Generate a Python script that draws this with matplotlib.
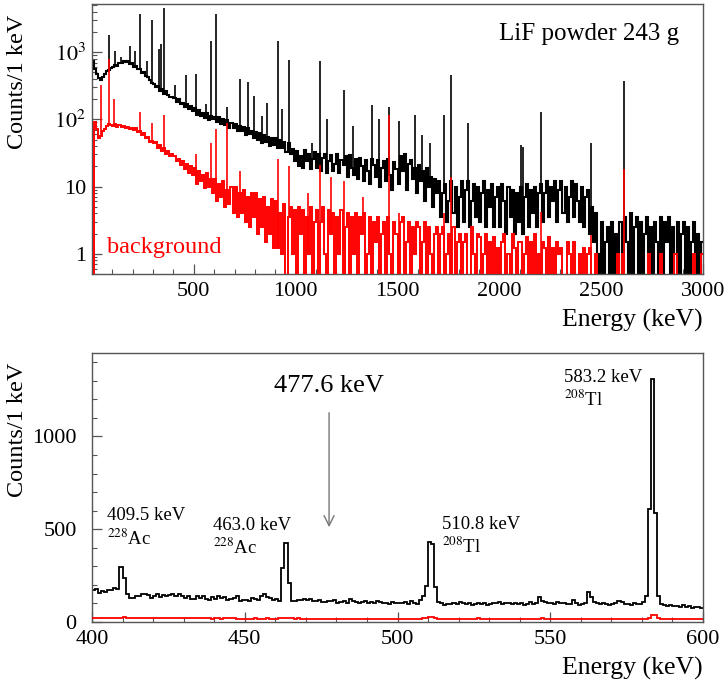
import numpy as np
import matplotlib
matplotlib.use("Agg")
import matplotlib.pyplot as plt
from matplotlib.ticker import FixedLocator, MultipleLocator, NullFormatter

plt.rcParams['font.family'] = ['Liberation Serif', 'DejaVu Serif']
plt.rcParams['mathtext.fontset'] = 'stix'

# ---------------- top panel data (10 keV bins, 0-3000 keV) ----------------
top_edges = np.arange(0, 3001, 10)
lif_cont = [
    750, 560, 470, 410, 390, 420, 480, 520, 540, 580,
    600, 640, 620, 700, 690, 750, 720, 730, 660, 680,
    610, 630, 560, 560, 490, 500, 440, 420, 380, 350,
    330, 300, 310, 265, 285, 240, 262, 230, 215, 212,
    210, 182, 198, 168, 176, 155, 170, 142, 158, 134,
    145, 118, 138, 112, 124, 106, 125, 98, 114, 100,
    110, 92, 108, 84, 100, 82, 98, 74, 88, 75,
    86, 66, 80, 68, 76, 58, 74, 60, 68, 52,
    64, 50, 62, 44, 58, 46, 55, 40, 52, 41,
    52, 37, 50, 38, 46, 33, 44, 30, 36, 24,
    34, 20, 28, 19, 35, 24, 31, 18, 26, 33,
    19, 30, 17, 27, 31, 16, 24, 29, 17, 22,
    30, 16, 25, 21, 28, 14, 29, 19, 15, 26,
    13, 27, 20, 12, 25, 17, 11, 26, 21, 14,
    25, 10, 19, 24, 12, 26, 15, 9, 23, 18,
    11, 28, 17, 30, 9, 22, 25, 13, 19, 8,
    21, 12, 17, 6, 19, 10, 14, 5, 13, 8,
    12, 3.5, 8, 11, 3, 6, 12, 4, 10, 2.5,
    7, 12, 3, 9, 12, 2.5, 6, 11, 3.5, 10,
    3, 8, 12, 2.5, 9, 5, 11, 2.5, 7, 10,
    2.5, 11, 6, 2, 10, 3.5, 9, 2, 8, 3,
    10, 2, 7, 11, 2.5, 9, 4, 10, 2.5, 8,
    11, 3, 8, 12, 3.5, 10, 6, 12, 3, 9,
    12, 4, 10, 3, 7, 12, 3.5, 11, 6, 3,
    10, 2.5, 7, 9, 2, 5, 1.5, 4, 1, 0.4,
    3, 0.3, 1.5, 2.5, 0.3, 3, 0.3, 2, 0.3, 3,
    0.3, 3.5, 1.5, 0.3, 4, 0.3, 2.5, 3.5, 0.3, 3,
    0.3, 2, 3.5, 0.3, 2.5, 0.3, 3, 1.5, 0.3, 3.5,
    0.3, 3, 1.5, 3.5, 0.3, 2.5, 0.3, 3, 0.3, 2,
    3, 0.3, 2.5, 0.3, 1.5, 3, 0.3, 2, 0.3, 1.5,
]
bkg_cont = [
    0.3, 90, 72, 52, 56, 66, 72, 80, 85, 82,
    80, 84, 78, 82, 76, 80, 74, 78, 72, 74,
    70, 74, 64, 68, 58, 62, 52, 55, 46, 48,
    44, 46, 38, 42, 34, 38, 30, 34, 28, 30,
    28, 24, 26, 21, 24, 18, 22, 16, 20, 15,
    19, 11, 17, 12, 15, 9.5, 16, 10, 13, 8,
    13, 6, 11, 7, 12, 5, 9, 5.5, 10, 4,
    10, 3.5, 8, 4, 9, 3, 7, 2.5, 8, 3.5,
    8, 2, 6.5, 2.5, 7, 1.5, 5, 2, 6.5, 1.2,
    6, 1.2, 4, 1, 5.5, 0.3, 3.5, 5, 1, 4.5,
    0.3, 5, 2, 4.5, 0.3, 3.5, 1, 5, 0.3, 3,
    4.5, 0.3, 3, 5, 1, 0.3, 4.5, 2, 4, 0.3,
    3.5, 1, 4.5, 0.3, 2.5, 4, 0.3, 3.5, 1, 4,
    0.3, 3.5, 2, 4, 0.3, 1, 3.5, 0.3, 3, 1.5,
    3.5, 0.3, 2, 3, 0.3, 3.5, 1, 0.3, 3, 2,
    0.3, 3, 3.5, 0.3, 1.5, 3, 0.3, 2.5, 1, 3,
    2.5, 0.3, 1.5, 3, 0.3, 2.5, 1, 0.3, 2, 2.5,
    0.3, 2, 2.5, 0.3, 1, 2, 0.3, 2.5, 0.3, 1.5,
    2, 0.3, 1.5, 2, 0.3, 0.3, 2.5, 1, 0.3, 2,
    1.8, 0.3, 1, 2, 0.3, 1.5, 0.3, 1.8, 0.3, 1.2,
    0.3, 1.5, 2, 0.3, 1, 0.3, 2, 1.2, 0.3, 1.5,
    1.5, 0.3, 1, 1.8, 0.3, 1.5, 0.3, 2, 0.3, 1,
    0.3, 1.5, 1.2, 0.3, 1.8, 0.3, 1.2, 0.3, 1.5, 1,
    1.2, 0.3, 0.3, 1.5, 1, 0.3, 1.5, 0.3, 0.3, 1,
    0.3, 1.2, 0.3, 1, 1.2, 0.3, 0.3, 1, 0.3, 0.3,
    0.3, 0.3, 0.3, 0.3, 0.3, 0.3, 0.3, 0.3, 1, 0.3,
    1, 0.3, 0.3, 0.3, 0.3, 0.3, 0.3, 0.3, 0.3, 0.3,
    0.3, 0.3, 0.3, 1, 0.3, 0.3, 0.3, 0.3, 0.3, 1,
    0.3, 0.3, 0.3, 0.3, 0.3, 0.3, 1, 0.3, 0.3, 0.3,
    0.3, 0.3, 0.3, 0.3, 0.3, 1, 0.3, 0.3, 0.3, 1,
]
lif_peak_E = [82, 111, 144, 186, 210, 238, 270, 295, 328, 338, 352, 409, 463, 511,
              562, 583, 609, 662, 727, 768, 795, 835, 860, 911, 934, 969, 1078, 1120,
              1155, 1238, 1281, 1377, 1408, 1460, 1509, 1588, 1620, 1661, 1730, 1764,
              1847, 2104, 2118, 2204, 2448, 2614]
lif_peak_H = [1770, 1050, 850, 1250, 1050, 3730, 750, 2970, 1120, 1320, 4560, 323, 455, 470,
              170, 1440, 3630, 155, 400, 363, 223, 112, 178, 1440, 141, 765, 45, 750,
              100, 275, 79, 162, 102, 155, 94, 116, 59, 45, 115, 455,
              87, 42, 39, 130, 45, 366]
bkg_peak_E = [46, 82, 108, 238, 295, 352, 511, 583, 609, 662, 727, 911, 969, 1062, 1120,
              1173, 1238, 1332, 1460, 1509, 1730, 1764, 2204, 2448, 2614]
bkg_peak_H = [324, 800, 200, 128, 89, 115, 30, 45, 71, 87, 17, 26, 20, 8, 21,
              14, 12, 7, 118, 4, 4, 14, 4.2, 1.9, 18]

# ---------------- bottom panel data (1 keV bins, 400-600 keV) ----------------
zoom_edges = np.arange(400, 601, 1)
lif_zoom = [
    175, 178, 158, 165, 160, 170, 172, 185, 178, 295,
    235, 150, 128, 128, 140, 140, 150, 150, 145, 132,
    140, 150, 135, 148, 140, 145, 150, 140, 152, 138,
    128, 140, 122, 125, 138, 130, 140, 125, 120, 135,
    125, 140, 128, 135, 120, 125, 128, 140, 115, 118,
    120, 115, 128, 125, 118, 140, 152, 135, 128, 120,
    125, 115, 290, 425, 210, 115, 112, 120, 118, 122,
    118, 125, 115, 112, 120, 110, 108, 115, 112, 120,
    105, 110, 115, 100, 125, 115, 108, 105, 110, 112,
    100, 108, 105, 115, 110, 100, 105, 98, 110, 105,
    105, 100, 108, 98, 112, 100, 95, 118, 140, 195,
    432, 418, 190, 108, 100, 92, 98, 95, 105, 98,
    110, 102, 95, 100, 92, 98, 105, 95, 100, 92,
    98, 105, 100, 110, 95, 100, 102, 98, 105, 95,
    100, 92, 98, 108, 95, 100, 135, 115, 110, 105,
    100, 95, 108, 100, 102, 95, 98, 120, 100, 92,
    98, 100, 160, 135, 110, 105, 95, 100, 98, 90,
    95, 100, 115, 110, 98, 95, 92, 100, 95, 98,
    110, 140, 610, 1312, 590, 140, 95, 90, 85, 92,
    88, 85, 82, 90, 80, 85, 78, 82, 80, 76,
]
bkg_zoom = [
    22, 23, 21, 22, 24, 23, 22, 21, 23, 24,
    25, 24, 23, 22, 21, 22, 23, 22, 21, 20,
    21, 22, 20, 21, 22, 21, 20, 19, 21, 22,
    20, 19, 21, 20, 19, 20, 21, 20, 19, 18,
    19, 20, 18, 19, 21, 20, 19, 18, 16, 17,
    15, 17, 18, 19, 18, 17, 18, 19, 18, 17,
    18, 19, 20, 21, 20, 19, 18, 19, 17, 16,
    17, 18, 17, 16, 18, 17, 16, 17, 18, 17,
    16, 15, 17, 16, 17, 18, 17, 16, 15, 16,
    17, 16, 15, 16, 17, 16, 15, 16, 17, 16,
    15, 16, 17, 16, 15, 16, 17, 18, 20, 24,
    28, 26, 22, 18, 16, 15, 16, 17, 16, 15,
    16, 17, 16, 15, 16, 18, 19, 17, 16, 15,
    16, 15, 17, 16, 15, 16, 17, 16, 15, 16,
    17, 18, 17, 16, 15, 16, 18, 19, 17, 16,
    15, 16, 15, 14, 15, 16, 15, 14, 15, 16,
    15, 16, 17, 16, 15, 14, 15, 16, 15, 14,
    15, 14, 15, 16, 15, 14, 15, 14, 15, 16,
    16, 18, 22, 40, 38, 20, 16, 15, 14, 15,
    14, 15, 14, 15, 16, 15, 14, 15, 14, 15,
]
labels = [
    (404.9, 550, "409.5 keV"), (404.9, 415, r"$^{228}$Ac"),
    (439.6, 496, "463.0 keV"), (439.6, 367, r"$^{228}$Ac"),
    (514.6, 500, "510.8 keV"), (514.6, 370, r"$^{208}$Tl"),
    (554.5, 1296, "583.2 keV"), (554.5, 1167, r"$^{208}$Tl"),
]
arrow_E = 477.6

FRAME = '#555555'
W, H = 726, 684
fig = plt.figure(figsize=(W / 100, H / 100), dpi=100)


def style(ax, ypad):
    for s in ax.spines.values():
        s.set_color(FRAME)
        s.set_linewidth(1.0)
    ax.tick_params(which='both', direction='in', colors=FRAME, labelcolor='black',
                   labelsize=16, top=False, right=False)
    ax.tick_params(which='major', length=7, width=0.9)
    ax.tick_params(which='minor', length=3.5, width=0.8)
    ax.tick_params(axis='x', which='major', pad=6)
    ax.tick_params(axis='y', which='major', pad=ypad)


# ---------------- top panel ----------------
ax1 = fig.add_axes([92 / W, 1 - 274 / H, 611 / W, 270 / H])
ax1.set_yscale('log')
ax1.stairs(lif_cont, top_edges, baseline=None, color='black', lw=1.5, zorder=2)
lif_base = [lif_cont[int(e // 10)] for e in lif_peak_E]
ax1.vlines(lif_peak_E, lif_base, lif_peak_H, color='black', lw=1.2, zorder=2)
ax1.stairs(bkg_cont, top_edges, baseline=None, color='#ff0000', lw=1.4, zorder=3)
bkg_base = [bkg_cont[int(e // 10)] for e in bkg_peak_E]
ax1.vlines(bkg_peak_E, bkg_base, bkg_peak_H, color='#ff0000', lw=1.2, zorder=3)
ax1.set_xlim(0, 3000)
ax1.set_ylim(0.5, 5200)
ax1.xaxis.set_major_locator(FixedLocator([500, 1000, 1500, 2000, 2500, 3000]))
ax1.xaxis.set_minor_locator(MultipleLocator(100))
ax1.set_yticks([1, 10, 100, 1000])
ax1.set_yticklabels(['1', '10', r'$10^{2}$', r'$10^{3}$'])
ax1.yaxis.set_minor_locator(FixedLocator(
    [m * 10.0 ** d for d in range(-1, 4) for m in range(2, 10)]))
ax1.yaxis.set_minor_formatter(NullFormatter())
style(ax1, 4)
ax1.text(0.666, 0.867, 'LiF powder 243 g', transform=ax1.transAxes, fontsize=18,
         ha='left', va='baseline')
ax1.text(0.0245, 0.078, 'background', transform=ax1.transAxes, fontsize=17.5,
         color='#ff0000', ha='left', va='baseline')

# ---------------- bottom panel ----------------
ax2 = fig.add_axes([92 / W, 1 - 622 / H, 611 / W, 269 / H])
ax2.stairs(lif_zoom, zoom_edges, baseline=None, color='black', lw=1.3, zorder=2)
ax2.stairs(bkg_zoom, zoom_edges, baseline=None, color='#ff0000', lw=1.3, zorder=3)
ax2.set_xlim(400, 600)
ax2.set_ylim(0, 1450)
ax2.xaxis.set_major_locator(MultipleLocator(50))
ax2.xaxis.set_minor_locator(MultipleLocator(10))
ax2.yaxis.set_major_locator(MultipleLocator(500))
ax2.yaxis.set_minor_locator(MultipleLocator(100))
style(ax2, 11)
for x, y, t in labels:
    ax2.text(x, y, t, fontsize=13.5, ha='left', va='baseline')
ax2.text(arrow_E, 1240, '477.6 keV', fontsize=19, ha='center', va='baseline')
ax2.annotate('', xy=(arrow_E, 496), xytext=(arrow_E, 1143),
             arrowprops=dict(arrowstyle='->', color='#777777', lw=1.0,
                             mutation_scale=18))

# ---------------- axis titles ----------------
fig.text(703 / W, 1 - 320 / H, 'Energy (keV)', fontsize=18.5, ha='right', va='center')
fig.text(703 / W, 1 - 668 / H, 'Energy (keV)', fontsize=18.5, ha='right', va='center')
fig.text(18 / W, 1 - 15 / H, 'Counts/1 keV', fontsize=17.5, rotation=90,
         ha='center', va='top')
fig.text(18 / W, 1 - 363 / H, 'Counts/1 keV', fontsize=17.5, rotation=90,
         ha='center', va='top')

fig.savefig('out.png', dpi=100)
